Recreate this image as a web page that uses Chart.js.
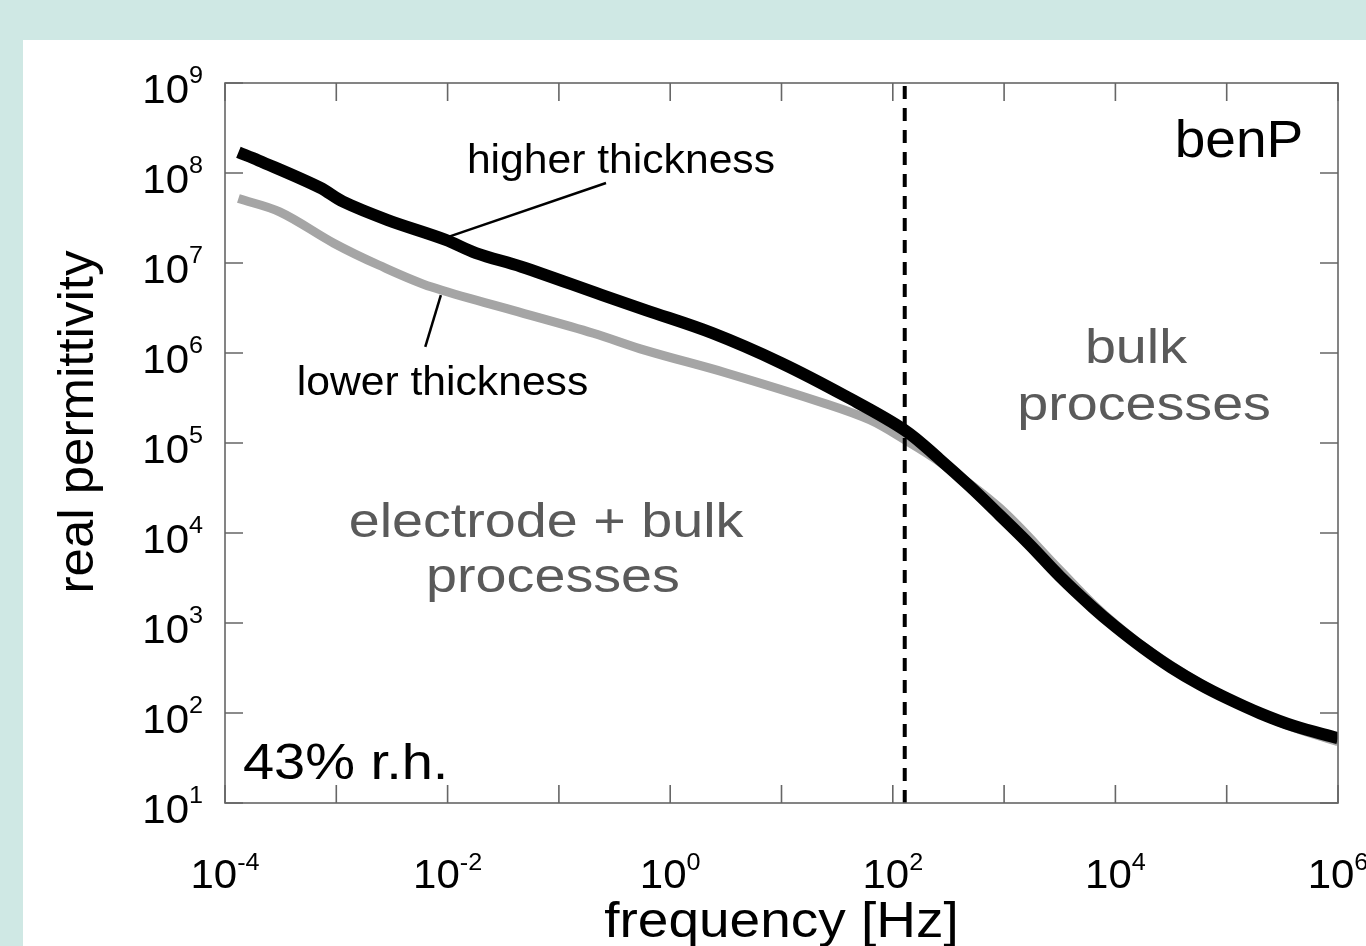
<!DOCTYPE html>
<html>
<head>
<meta charset="utf-8">
<script src="https://cdn.jsdelivr.net/npm/chart.js@4/dist/chart.umd.min.js"></script>
<style>
    html, body { margin: 0; padding: 0; }
    body { width: 1366px; height: 946px; background: #cfe8e4; position: relative; overflow: hidden; }
    #panel { position: absolute; left: 23px; top: 40px; right: 0; bottom: 0; background: #ffffff; }
    #wrap { position: absolute; left: 0; top: 0; width: 1366px; height: 946px; }
</style>
</head>
<body>
<div id="panel"></div>
<div id="wrap"><canvas id="chart"></canvas></div>
<script>
"use strict";

// higher thickness (black)
const freqHigh = [1.32e-4, 2.0e-4, 7.1e-4, 1.15e-3, 2.9e-3, 9.5e-3, 1.8e-2, 4.6e-2, 0.245, 0.6, 2.4, 9.8, 38.9, 129, 263, 490, 912, 1700, 3160, 6310, 1e4, 17800, 31600, 57500, 1e5, 2.0e5, 3.98e5, 1e6];
const permHigh = [1.7e8, 1.38e8, 6.9e7, 4.8e7, 3.0e7, 1.82e7, 1.29e7, 9.1e6, 4.4e6, 3.0e6, 1.66e6, 7.8e5, 3.24e5, 1.38e5, 6.61e4, 3.31e4, 1.58e4, 7410, 3310, 1480, 912, 525, 321, 207, 146, 99, 72, 52.5];

// lower thickness (grey)
const freqLow = [1.32e-4, 3.1e-4, 9.5e-4, 2.4e-3, 7.2e-3, 3.8e-2, 0.204, 0.6, 3.2, 24.5, 62.4, 129, 263, 912, 3160, 6310, 1e4, 17800, 31600, 57500, 1e5, 2.0e5, 3.98e5, 1e6];
const permLow = [5.2e7, 3.7e7, 1.66e7, 9.5e6, 5.4e6, 3.0e6, 1.66e6, 1.07e6, 6.0e5, 2.75e5, 1.8e5, 1.08e5, 6.17e4, 1.9e4, 3890, 1620, 970, 550, 339, 214, 148, 98, 69, 48];

// electrode / bulk boundary
const boundaryFreq = 128;
const boundaryRange = [1e1, 1e9];

// leader lines of the two labels
const leaderHigh = [[0.265, 7.74e7], [0.01, 1.94e7]];
const leaderLow = [[0.0087, 4.4e6], [0.0063, 1.17e6]];

// tick exponents
const xTickExps = [-4, -3, -2, -1, 0, 1, 2, 3, 4, 5, 6];
const xLabelExps = [-4, -2, 0, 2, 4, 6];
const yTickExps = [1, 2, 3, 4, 5, 6, 7, 8, 9];
const yLabelExps = [1, 2, 3, 4, 5, 6, 7, 8, 9];

const FONT = '"Liberation Sans", Arial, Helvetica, sans-serif';
const GREY_TEXT = '#5a5a5a';

// text placed in data coordinates
const notes = [
    { text: 'higher thickness', x: 0.361, y: 1e8, size: 41, color: '#000', align: 'center', sx: 1.04 },
    { text: 'lower thickness', x: 0.009, y: 3.4e5, size: 41, color: '#000', align: 'center', sx: 1.04 },
    { text: 'benP', x: 1.29e5, y: 1.5e8, size: 51, color: '#000', align: 'center', sx: 1.08 },
    { text: '43% r.h.', x: 1.45e-4, y: 18.5, size: 50, color: '#000', align: 'left', sx: 1.12 },
    { text: 'electrode + bulk', x: 0.0766, y: 9030, size: 48, color: GREY_TEXT, align: 'center', sx: 1.16 },
    { text: 'processes', x: 0.0885, y: 2210, size: 48, color: GREY_TEXT, align: 'center', sx: 1.16 },
    { text: 'bulk', x: 15300, y: 7.74e5, size: 48, color: GREY_TEXT, align: 'center', sx: 1.16 },
    { text: 'processes', x: 18100, y: 1.8e5, size: 48, color: GREY_TEXT, align: 'center', sx: 1.16 }
];

const toPoints = (xs, ys) => xs.map((x, i) => ({ x: x, y: ys[i] }));

function drawText(ctx, text, x, y, size, color, align, sx) {
    ctx.save();
    ctx.translate(x, y);
    ctx.scale(sx || 1, 1);
    ctx.font = size + 'px ' + FONT;
    ctx.fillStyle = color;
    ctx.textAlign = align;
    ctx.textBaseline = 'alphabetic';
    ctx.fillText(text, 0, 0);
    ctx.restore();
}

// "10" with a raised exponent
function drawPower(ctx, exp, x, y, align, raise) {
    const sx = 1.05;
    const expText = String(exp);
    ctx.save();
    ctx.font = '40px ' + FONT;
    const wBase = ctx.measureText('10').width;
    ctx.font = '24px ' + FONT;
    const wExp = ctx.measureText(expText).width;
    const total = (wBase + wExp) * sx;
    const left = align === 'right' ? x - total : x - total / 2;
    ctx.translate(left, y);
    ctx.scale(sx, 1);
    ctx.fillStyle = '#000';
    ctx.textAlign = 'left';
    ctx.textBaseline = 'alphabetic';
    ctx.font = '40px ' + FONT;
    ctx.fillText('10', 0, 0);
    ctx.font = '24px ' + FONT;
    ctx.fillText(expText, wBase, -raise);
    ctx.restore();
}

const framePlugin = {
    id: 'frame',
    afterDatasetsDraw(chart) {
        const ctx = chart.ctx;
        const area = chart.chartArea;
        const xs = chart.scales.x;
        const ys = chart.scales.y;
        const tick = 18;

        ctx.save();
        ctx.strokeStyle = '#666666';
        ctx.lineWidth = 1.6;
        ctx.strokeRect(area.left, area.top, area.right - area.left, area.bottom - area.top);

        ctx.beginPath();
        xTickExps.forEach(e => {
            const px = xs.getPixelForValue(Math.pow(10, e));
            ctx.moveTo(px, area.bottom);
            ctx.lineTo(px, area.bottom - tick);
            ctx.moveTo(px, area.top);
            ctx.lineTo(px, area.top + tick);
        });
        yTickExps.forEach(e => {
            const py = ys.getPixelForValue(Math.pow(10, e));
            ctx.moveTo(area.left, py);
            ctx.lineTo(area.left + tick, py);
            ctx.moveTo(area.right, py);
            ctx.lineTo(area.right - tick, py);
        });
        ctx.stroke();

        // tick labels
        xLabelExps.forEach(e => {
            const px = xs.getPixelForValue(Math.pow(10, e));
            drawPower(ctx, e, px, area.bottom + 85, 'center', 18);
        });
        yLabelExps.forEach(e => {
            const py = ys.getPixelForValue(Math.pow(10, e));
            drawPower(ctx, e, area.left - 22, py + 20, 'right', 20);
        });

        // axis titles
        drawText(ctx, 'frequency [Hz]', (area.left + area.right) / 2, 937, 50, '#000', 'center', 1.1);
        ctx.save();
        ctx.translate(93, 422);
        ctx.rotate(-Math.PI / 2);
        drawText(ctx, 'real permittivity', 0, 0, 50, '#000', 'center', 1.02);
        ctx.restore();

        // annotations
        notes.forEach(n => {
            drawText(ctx, n.text, xs.getPixelForValue(n.x), ys.getPixelForValue(n.y), n.size, n.color, n.align, n.sx);
        });
        ctx.restore();
    }
};

const lineBase = { showLine: true, pointRadius: 0, fill: false, tension: 0.35, borderCapStyle: 'butt', borderJoinStyle: 'round' };

new Chart(document.getElementById('chart'), {
    type: 'scatter',
    data: {
        datasets: [
            Object.assign({}, lineBase, {
                label: 'higher thickness',
                data: toPoints(freqHigh, permHigh),
                borderColor: '#000000',
                borderWidth: 12,
                order: 1
            }),
            Object.assign({}, lineBase, {
                label: 'lower thickness',
                data: toPoints(freqLow, permLow),
                borderColor: '#a5a5a5',
                borderWidth: 9,
                order: 2
            }),
            {
                label: 'boundary',
                data: boundaryRange.map(y => ({ x: boundaryFreq, y: y })),
                showLine: true, pointRadius: 0,
                borderColor: '#000000', borderWidth: 4, borderDash: [13, 9],
                order: 0
            },
            {
                label: 'leader high',
                data: leaderHigh.map(p => ({ x: p[0], y: p[1] })),
                showLine: true, pointRadius: 0,
                borderColor: '#000000', borderWidth: 2.5,
                order: 0
            },
            {
                label: 'leader low',
                data: leaderLow.map(p => ({ x: p[0], y: p[1] })),
                showLine: true, pointRadius: 0,
                borderColor: '#000000', borderWidth: 2.5,
                order: 0
            }
        ]
    },
    options: {
        responsive: true,
        maintainAspectRatio: false,
        animation: false,
        layout: { padding: { left: 225, right: 28, top: 83, bottom: 143 } },
        plugins: { legend: { display: false }, tooltip: { enabled: false } },
        scales: {
            x: { type: 'logarithmic', min: 1e-4, max: 1e6, display: false },
            y: { type: 'logarithmic', min: 1e1, max: 1e9, display: false }
        }
    },
    plugins: [framePlugin]
});
</script>
</body>
</html>
